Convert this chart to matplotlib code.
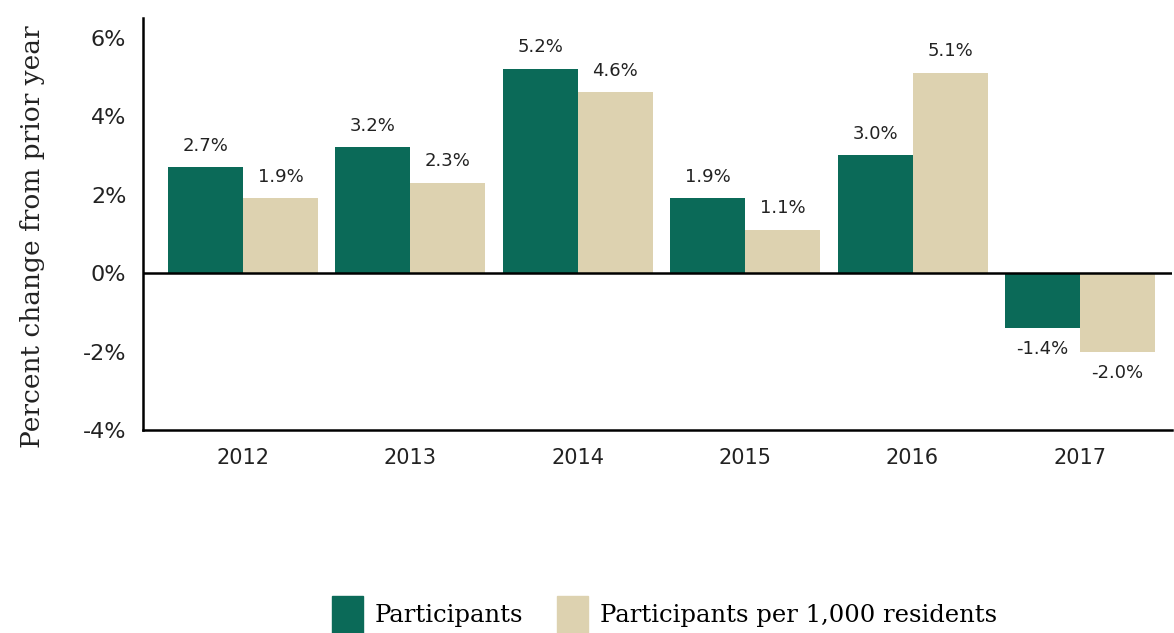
import matplotlib

matplotlib.use("Agg")

import matplotlib.pyplot as plt  # noqa: E402
import numpy as np  # noqa: E402
from matplotlib.patches import Patch  # noqa: E402

years = ["2012", "2013", "2014", "2015", "2016", "2017"]
participants = [2.7, 3.2, 5.2, 1.9, 3.0, -1.4]
per_1000 = [1.9, 2.3, 4.6, 1.1, 5.1, -2.0]
y_ticks = [-4, -2, 0, 2, 4, 6]
series_names = ["Participants", "Participants per 1,000 residents"]

GREEN = "#0b6a58"
TAN = "#ddd2b0"
TEXT = "#222222"
SANS = ["DejaVu Sans"]
SERIF = ["DejaVu Serif"]

fig = plt.figure(figsize=(11.74, 6.33), dpi=100)
ax = fig.add_axes([0.1218, 0.3207, 0.8765, 0.651])

x = np.arange(len(years))
w = 0.448
bars_a = ax.bar(x - w / 2, participants, width=w, color=GREEN, zorder=2)
bars_b = ax.bar(x + w / 2, per_1000, width=w, color=TAN, zorder=2)

for bars in (bars_a, bars_b):
    for b in bars:
        v = b.get_height()
        xc = b.get_x() + b.get_width() / 2
        if v >= 0:
            ax.annotate(f"{v:.1f}%", (xc, v), xytext=(0, 9), textcoords="offset points",
                        ha="center", va="bottom", fontsize=13, color=TEXT, family=SANS)
        else:
            ax.annotate(f"{v:.1f}%", (xc, v), xytext=(0, -9), textcoords="offset points",
                        ha="center", va="top", fontsize=13, color=TEXT, family=SANS)

ax.axhline(0, color="black", lw=1.8, zorder=3)
ax.set_xlim(-0.597, 5.55)
ax.set_ylim(-4, 6.5)
ax.set_yticks(y_ticks)
ax.set_yticklabels([f"{t}%" for t in y_ticks], fontsize=16, color=TEXT, family=SANS)
ax.set_xticks(x)
ax.set_xticklabels(years, fontsize=15, color=TEXT, family=SANS)
ax.tick_params(axis="y", length=0, pad=12)
ax.tick_params(axis="x", length=0, pad=13)

for side in ("top", "right"):
    ax.spines[side].set_visible(False)
for side in ("left", "bottom"):
    ax.spines[side].set_linewidth(1.8)
    ax.spines[side].set_color("black")

ax.set_ylabel("Percent change from prior year", fontsize=19, family=SERIF,
              color=TEXT, labelpad=28)
ax.yaxis.set_label_coords(-0.095, 0.47)

handles = [Patch(color=GREEN), Patch(color=TAN)]
fig.legend(handles, series_names, loc="lower center", bbox_to_anchor=(0.566, -0.035),
           ncol=2, frameon=False, prop={"family": SERIF, "size": 17.5},
           handlelength=1.25, handleheight=2.0, handletextpad=0.5, columnspacing=1.4)

fig.savefig("out.png", dpi=100)
plt.close(fig)
